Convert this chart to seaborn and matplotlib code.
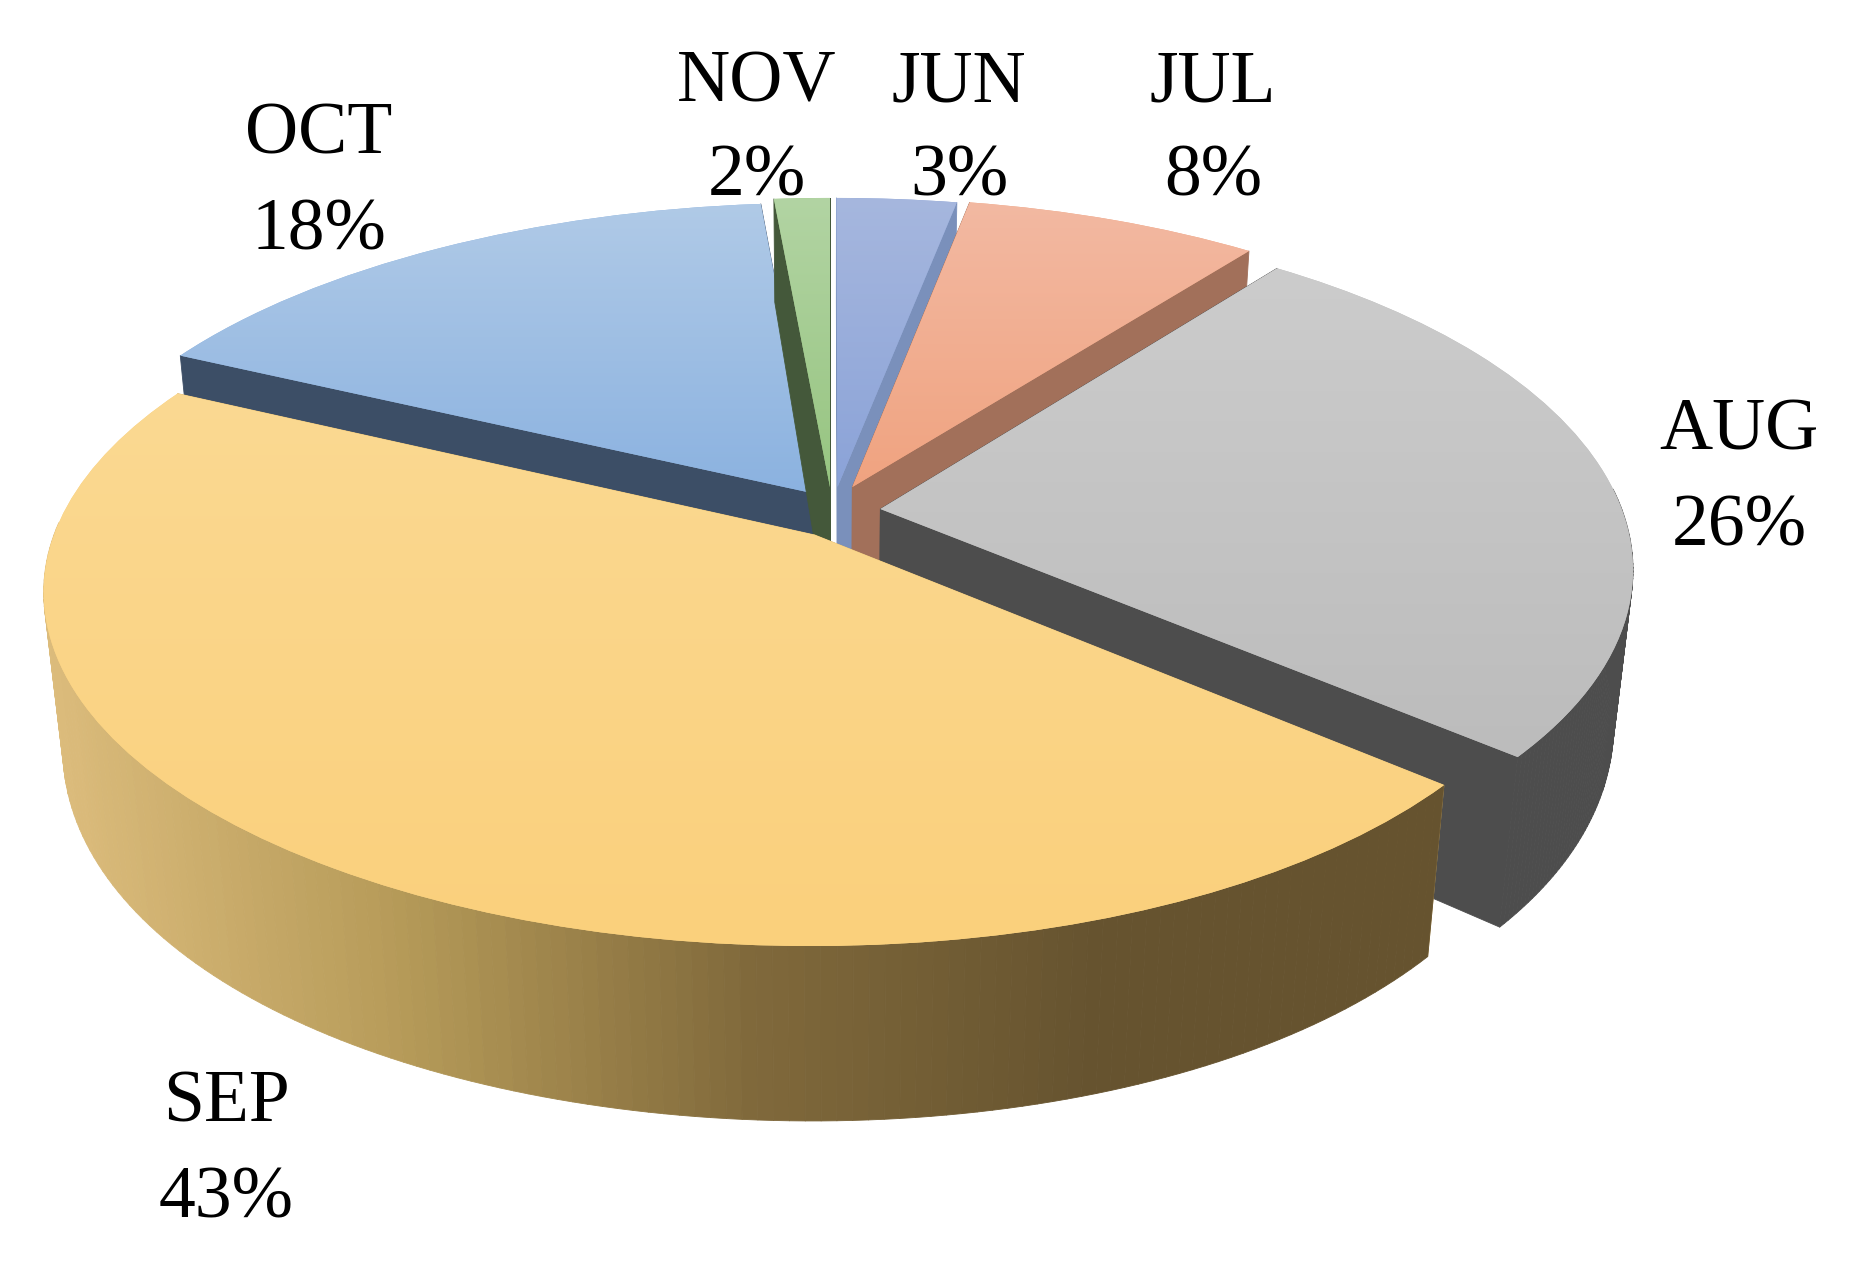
import numpy as np
import matplotlib
matplotlib.use("Agg")
import matplotlib.pyplot as plt
import seaborn as sns
from matplotlib.collections import PolyCollection
from matplotlib.transforms import Transform

# Data
months = ["JUN", "JUL", "AUG", "SEP", "OCT", "NOV"]
shares = [3, 8, 26, 43, 18, 2]

# Styling per slice (same order as months)
top_light = ["#a6b7de", "#f3b9a2", "#cccccc", "#fbd992", "#b0cae7", "#b2d4a3"]
top_dark = ["#8ba3d8", "#f0a380", "#bcbcbc", "#fad07c", "#8bb2e0", "#97c581"]
wall_cols = ["#7a90bb", "#a2705a", "#4d4d4d", "#d9b876", "#3c4e66", "#44583a"]
nudges = [(0.01, 0), (0.03, 0), (0.067, -0.065), (-0.02, -0.14), (-0.02, -0.02), (0, 0)]
radii = [1, 1, 1, 0.985, 1, 1]
draw_order = ["OCT", "NOV", "JUN", "JUL", "AUG", "SEP"]

# the 3D view shifts the slice boundaries a little (degrees clockwise from 12 o'clock)
view_from = [0, 10.8, 39.6, 133.2, 288, 352.8, 360]
view_to = [0, 10.8, 37.5, 130.5, 296, 355, 360]

label_x = [959, 1213, 1739, 226, 319, 757]
name_base = [101, 101, 450, 1122, 153, 101]
pct_base = [196, 196, 546, 1217, 250, 196]

sns.set_theme(style="white")
plt.rcParams["font.family"] = ["Liberation Serif", "DejaVu Serif"]

CX, CY = 830, 487
A, D, B, K = 745, 10, 335, 0.159


class Tilt(Transform):
    # unit pie -> image pixels, with a bit of perspective
    input_dims = 2
    output_dims = 2
    is_separable = False
    has_inverse = False

    def transform_non_affine(self, values):
        xy = np.asarray(values, dtype=float)
        x, y = xy[:, 0], xy[:, 1]
        w = 1 + K * y
        return np.column_stack([CX + (A * x - D * x * x) / w, CY - B * y / w])


def sink(pts):
    # push the top outline down to the underside of the pie
    depth = 175 - 71 * ((954 - pts[:, 1]) / 751) ** 2
    shrink = 1 - depth / 6500
    return np.column_stack([CX + (pts[:, 0] - CX) * shrink, pts[:, 1] + depth])


def view_angle(theta):
    return 90 - np.interp(90 - theta, view_from, view_to)


fig = plt.figure(figsize=(18.6, 12.73), dpi=100)
ax = fig.add_axes([0, 0, 1, 1])

wedges, _ = ax.pie(shares, startangle=90, counterclock=False, radius=1,
                   wedgeprops={"linewidth": 0})
ax.set_aspect("auto")
ax.axis("off")

tilt = Tilt()
sep_cmap = sns.blend_palette(["#dcbc7c", "#b59a58", "#80693b", "#66532f", "#66532f"],
                             as_cmap=True)

z = 2
for name in draw_order:
    i = months.index(name)
    w = wedges[i]
    t1, t2 = view_angle(w.theta1), view_angle(w.theta2)
    w.set_theta1(t1)
    w.set_theta2(t2)
    w.set_center(nudges[i])
    w.set_radius(radii[i])
    w.set_transform(tilt + ax.transData)

    # side walls, built from the wedge's own angles
    ang = np.radians(np.linspace(t1, t2, 160))
    arc = np.column_stack([w.center[0] + w.r * np.cos(ang), w.center[1] + w.r * np.sin(ang)])
    hub = tilt.transform_non_affine(np.array([w.center]))
    arc_px = tilt.transform_non_affine(arc)
    arc_low = sink(arc_px)
    hub_low = sink(hub)

    polys = [np.vstack([hub, arc_px[0], arc_low[0], hub_low]),
             np.vstack([hub, arc_px[-1], arc_low[-1], hub_low])]
    cols = [wall_cols[i], wall_cols[i]]
    for k in range(len(ang) - 1):
        if np.sin(ang[k]) > 0.05:
            continue
        polys.append(np.vstack([arc_px[k], arc_px[k + 1], arc_low[k + 1], arc_low[k]]))
        if name == "SEP":
            cols.append(sep_cmap((arc_px[k, 0] - 44) / (1440 - 44)))
        else:
            cols.append(wall_cols[i])
    ax.add_collection(PolyCollection(polys, facecolors=cols, edgecolors=cols,
                                     linewidths=0.6, zorder=z))

    # top face, vertical gradient clipped to the wedge
    w.set_facecolor(top_dark[i])
    w.set_zorder(z + 1)
    grad = sns.blend_palette([top_light[i], top_dark[i]], as_cmap=True)
    ys = np.concatenate([arc_px[:, 1], hub[:, 1]])
    im = ax.imshow(np.linspace(0, 1, 256).reshape(-1, 1), cmap=grad, aspect="auto",
                   extent=(0, 1860, ys.max(), ys.min()), origin="upper", zorder=z + 2)
    im.set_clip_path(w)
    z += 3

ax.set_xlim(0, 1860)
ax.set_ylim(1273, 0)

for i, name in enumerate(months):
    ax.text(label_x[i], name_base[i], name, ha="center", va="baseline",
            fontsize=53, color="black", zorder=50)
    ax.text(label_x[i], pct_base[i], f"{shares[i]}%", ha="center", va="baseline",
            fontsize=53, color="black", zorder=50)

fig.savefig("out.png", dpi=100, facecolor="white")
